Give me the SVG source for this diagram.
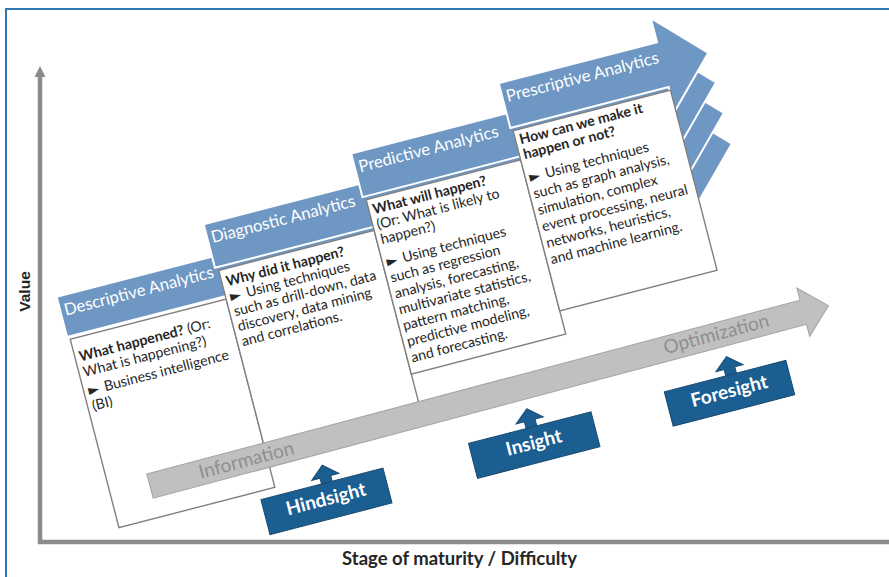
<svg xmlns="http://www.w3.org/2000/svg" width="889" height="577" viewBox="0 0 889 577">
<style>
.hdr{fill:#6f97c3;stroke:#ffffff;stroke-width:2}
.box{fill:#ffffff;stroke:#808080;stroke-width:1.4}
.ttl{font-family:Lato,'Liberation Sans',sans-serif;font-size:16.7px;fill:#ffffff}
.bt{font-family:Lato,'DejaVu Sans',sans-serif;font-size:14.2px;fill:#262626}
.b{font-weight:700}
.nav{fill:#1b5e91;stroke:#17496f;stroke-width:1}
.navt{font-family:Lato,'Liberation Sans',sans-serif;font-size:19px;font-weight:700;fill:#ffffff;text-anchor:middle}
.axis{stroke:#8c8c8c;stroke-width:4.5;fill:none}
.bar{fill:#c0c0c0;stroke:#a3a3a3;stroke-width:1}
.bart{font-family:Lato,'Liberation Sans',sans-serif;font-size:19px;fill:#8f8f8f}
.lbl{font-weight:700;fill:#262626;text-anchor:middle}
</style>
<rect x="0" y="0" width="889" height="577" fill="#ffffff"/>
<rect x="6" y="9" width="900" height="600" fill="none" stroke="#2e78b7" stroke-width="2"/>

<g id="connectors">
  <line class="axis" x1="40" y1="542" x2="40" y2="74"/>
  <polygon points="40,66 34.5,77 45.5,77" fill="#8c8c8c"/>
  <line class="axis" x1="37.8" y1="542" x2="889" y2="542"/>
  <g transform="rotate(-14.5 450 300)">
    <polygon class="nav" points="285,428 299,440 290.5,440 290.5,447 279.5,447 279.5,440 271,440"/>
    <polygon class="nav" points="497,424.5 511,436.5 502.5,436.5 502.5,444.5 491.5,444.5 491.5,436.5 483,436.5"/>
    <polygon class="nav" points="703.5,424 717.5,436 709,436 709,443.5 698,443.5 698,436 689.5,436"/>
  </g>
</g>

<g transform="rotate(-14.5 450 300)">
  <g id="descriptive">
    <polygon class="hdr" points="70,198.5 715,198.5 715,171.25 762,219.25 715,267.25 715,240 70,240"/>
    <text class="ttl" x="74" y="219">Descriptive Analytics</text>
    <rect class="box" x="72.5" y="243" width="161" height="194.5"/>
    <text class="bt">
      <tspan x="77" y="267"><tspan class="b">What happened?</tspan> (Or:</tspan>
      <tspan x="77" y="283">What is happening?)</tspan>
      <tspan x="77" y="302">► <tspan dx="2">Business intelligence</tspan></tspan>
      <tspan x="77" y="318">(BI)</tspan>
    </text>
  </g>
  <g id="diagnostic">
    <polygon class="hdr" points="230.5,165 715,165 715,139.5 762,187.5 715,235.5 715,210 230.5,210"/>
    <text class="ttl" x="234.5" y="185.5">Diagnostic Analytics</text>
    <rect class="box" x="233.5" y="213.5" width="160.5" height="196.5"/>
    <text class="bt">
      <tspan class="b" x="238" y="231">Why did it happen?</tspan>
      <tspan x="238" y="246.5">► <tspan dx="2">Using techniques</tspan></tspan>
      <tspan x="238" y="262">such as drill-down, data</tspan>
      <tspan x="238" y="277.5">discovery, data mining</tspan>
      <tspan x="238" y="293">and correlations.</tspan>
    </text>
  </g>
  <g id="predictive">
    <polygon class="hdr" points="391,133.5 715,133.5 715,108 762,156 715,204 715,178.5 391,178.5"/>
    <text class="ttl" x="395" y="154">Predictive Analytics</text>
    <rect class="box" x="394" y="182" width="159.5" height="180"/>
    <text class="bt">
      <tspan class="b" x="398" y="198">What will happen?</tspan>
      <tspan x="398" y="213.5">(Or: What is likely to</tspan>
      <tspan x="398" y="229">happen?)</tspan>
      <tspan x="398" y="252">► <tspan dx="2">Using techniques</tspan></tspan>
      <tspan x="398" y="268.5">such as regression</tspan>
      <tspan x="398" y="285">analysis, forecasting,</tspan>
      <tspan x="398" y="301.5">multivariate statistics,</tspan>
      <tspan x="398" y="318">pattern matching,</tspan>
      <tspan x="398" y="334.5">predictive modeling,</tspan>
      <tspan x="398" y="351">and forecasting.</tspan>
    </text>
  </g>
  <g id="prescriptive">
    <polygon class="hdr" points="551.5,102.3 715,102.3 715,77.4 762,125.4 715,173.4 715,148.5 551.5,148.5"/>
    <text class="ttl" x="555.5" y="122.8">Prescriptive Analytics</text>
    <rect class="box" x="553.5" y="152" width="162.5" height="186"/>
    <text class="bt">
      <tspan class="b" x="557.5" y="167">How can we make it</tspan>
      <tspan class="b" x="557.5" y="182.5">happen or not?</tspan>
      <tspan x="557.5" y="206">► <tspan dx="2">Using techniques</tspan></tspan>
      <tspan x="557.5" y="223">such as graph analysis,</tspan>
      <tspan x="557.5" y="240">simulation, complex</tspan>
      <tspan x="557.5" y="257">event processing, neural</tspan>
      <tspan x="557.5" y="274">networks, heuristics,</tspan>
      <tspan x="557.5" y="291">and machine learning.</tspan>
    </text>
  </g>
</g>

<g id="progress" transform="translate(150,486.1) rotate(-14.9)">
  <polygon class="bar" points="0,-12.5 676,-12.5 676,-25 702,0 676,25 676,12.5 0,12.5"/>
  <text class="bart" x="51" y="6">Information</text>
  <text class="bart" x="532" y="5">Optimization</text>
</g>

<g transform="rotate(-14.5 450 300)">
  <g id="hindsight">
    <rect class="nav" x="217" y="446" width="126" height="36"/>
    <text class="navt" x="280" y="468">Hindsight</text>
  </g>
  <g id="insight">
    <rect class="nav" x="432" y="443.5" width="126.5" height="36"/>
    <text class="navt" x="495.5" y="465.5">Insight</text>
  </g>
  <g id="foresight">
    <rect class="nav" x="634.5" y="442.5" width="125.5" height="35.5"/>
    <text class="navt" x="697.5" y="464.5">Foresight</text>
  </g>
</g>

<g id="labels">
  <text class="lbl" style="font-family:'Liberation Sans',Arial,sans-serif;font-size:15.5px" transform="translate(30,291.5) rotate(-90)">Value</text>
  <text class="lbl" style="font-family:Lato,'Liberation Sans',sans-serif;font-size:18.5px" x="459.5" y="565">Stage of maturity / Difficulty</text>
</g>
</svg>
